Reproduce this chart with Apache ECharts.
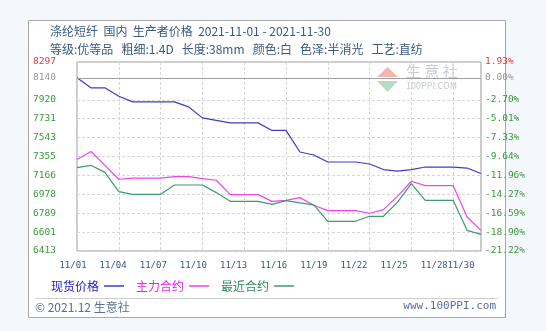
<!DOCTYPE html>
<html>
<head>
<meta charset="utf-8">
<script src="https://cdn.jsdelivr.net/npm/echarts@6/dist/echarts.min.js"></script>
<style>
  html, body { margin: 0; padding: 0; background: #f4f7fc; }
  #chart { width: 546px; height: 331px; }
</style>
</head>
<body>
<div id="chart"></div>
<script>
// Daily dates, November 2021
const dates = ['11/01','11/02','11/03','11/04','11/05','11/06','11/07','11/08','11/09','11/10',
  '11/11','11/12','11/13','11/14','11/15','11/16','11/17','11/18','11/19','11/20',
  '11/21','11/22','11/23','11/24','11/25','11/26','11/27','11/28','11/29','11/30'];

// 现货价格 (spot price)
const spotPrice = [8140, 8040, 8040, 7955, 7900, 7900, 7900, 7900, 7850, 7740,
  7715, 7690, 7690, 7690, 7615, 7615, 7400, 7370, 7300, 7300,
  7300, 7280, 7225, 7210, 7225, 7250, 7250, 7250, 7240, 7185];

// 主力合约 (main contract)
const mainContract = [7325, 7405, 7267, 7128, 7140, 7140, 7140, 7155, 7155, 7135,
  7118, 6975, 6975, 6975, 6908, 6918, 6945, 6869, 6816, 6816,
  6816, 6789, 6826, 6958, 7108, 7065, 7065, 7065, 6752, 6619];

// 最近合约 (nearest contract)
const nearContract = [7244, 7267, 7197, 7005, 6978, 6978, 6978, 7071, 7071, 7071,
  6995, 6908, 6908, 6908, 6878, 6915, 6892, 6872, 6709, 6709,
  6709, 6759, 6759, 6898, 7085, 6918, 6918, 6918, 6619, 6579];

// Value axis ticks and their left / right labels
const yMin = 6413;
const yMax = 8297;
const baseValue = 8140;
const yTickValues = [6413, 6601.4, 6789.8, 6978.2, 7166.6, 7355, 7543.4, 7731.8, 7920.2, 8140, 8297];
const yTickLabels = ['6413','6601','6789','6978','7166','7355','7543','7731','7920','8140','8297'];
const pctTickLabels = ['-21.22%','-18.90%','-16.59%','-14.27%','-11.96%','-9.64%','-7.33%','-5.01%','-2.70%','0.00%','1.93%'];

const seriesNames = ['现货价格', '主力合约', '最近合约'];
const seriesColors = ['#3c3cc8', '#ee44ee', '#3f9a6e'];
const legendTextColors = ['#1a1acc', '#ee22ee', '#2f8a5e'];

function tickColor(i) {
  if (i === yTickValues.length - 1) return '#e03a3a';
  if (i === yTickValues.length - 2) return '#999999';
  return '#3a9a3a';
}
function tickIndex(v) {
  let best = 0, d = Infinity;
  yTickValues.forEach((t, i) => { if (Math.abs(t - v) < d) { d = Math.abs(t - v); best = i; } });
  return best;
}

const chart = echarts.init(document.getElementById('chart'), null, { renderer: 'canvas' });

const plot = { left: 77, top: 62, width: 404, height: 189 };
// date labels sit on a slightly narrower band than the plot itself
const labelBand = { left: 73, top: 62, width: 388, height: 189, show: false };
const uiFont = '"Noto Sans CJK SC", "DejaVu Sans", sans-serif';
const numFont = '"DejaVu Sans Mono", "Liberation Mono", monospace';

function dateLabelAxis(gridIndex, showIndex) {
  return {
    type: 'category', gridIndex: gridIndex, data: dates, boundaryGap: false,
    axisLine: { show: false }, axisTick: { show: false }, splitLine: { show: false },
    axisLabel: {
      interval: showIndex,
      color: '#3a5a80', fontSize: 9, fontFamily: numFont, margin: 10
    }
  };
}

const option = {
  backgroundColor: '#f4f7fc',
  animation: false,
  textStyle: { fontFamily: uiFont },
  graphic: [
    { type: 'rect', z: -10, shape: { x: 28.5, y: 20.5, width: 477, height: 297 },
      style: { fill: '#ffffff', stroke: '#a8a8a8', lineWidth: 1 } },
    { type: 'text', left: 50, top: 25,
      style: { text: '涤纶短纤  国内  生产者价格  2021-11-01 - 2021-11-30', fill: '#3a5a80', font: '12px ' + uiFont } },
    { type: 'text', left: 50, top: 43,
      style: { text: '等级:优等品   粗细:1.4D   长度:38mm   颜色:白   色泽:半消光   工艺:直纺', fill: '#3a5a80', font: '12px ' + uiFont } },
    // watermark
    { type: 'polygon', shape: { points: [[377, 77], [387.5, 67], [398, 77]] }, style: { fill: '#f2b8b0' } },
    { type: 'polygon', shape: { points: [[377, 81], [387.5, 92], [398, 81]] }, style: { fill: '#b8dcc0' } },
    { type: 'text', left: 406, top: 64, style: { text: '生 意 社', fill: '#c6ccd6', font: '15px ' + uiFont } },
    { type: 'text', left: 406, top: 81, style: { text: '100PPI.COM', fill: '#c2c8d2', font: '9px ' + uiFont } },
    // footer
    { type: 'line', shape: { x1: 36, y1: 298.5, x2: 498, y2: 298.5 }, style: { stroke: '#cfcfcf', lineWidth: 1 } },
    { type: 'text', left: 35, top: 301,
      style: { text: '© 2021.12 生意社', fill: '#5a7090', font: '12px ' + uiFont } },
    { type: 'text', right: 50, top: 301,
      style: { text: 'www.100PPI.com', fill: '#5a7090', font: '11px ' + numFont } }
  ],
  legend: {
    left: 46, top: 275,
    align: 'right',
    itemWidth: 20, itemHeight: 1.5, itemGap: 12,
    icon: 'rect',
    data: seriesNames.map((n, i) => ({ name: n, textStyle: { color: legendTextColors[i] } })),
    textStyle: { fontSize: 12, fontFamily: uiFont }
  },
  grid: [
    Object.assign({ show: true, borderColor: '#9a9a9a', borderWidth: 1, backgroundColor: 'transparent' }, plot),
    Object.assign({}, labelBand),
    Object.assign({}, labelBand)
  ],
  xAxis: [
    {
      type: 'category', gridIndex: 0, data: dates, boundaryGap: false,
      axisLine: { show: false }, axisTick: { show: false }, axisLabel: { show: false },
      splitLine: { show: true, interval: 2, lineStyle: { color: '#d6d6d6', type: [3, 2], width: 1 } }
    },
    dateLabelAxis(1, (i) => i % 3 === 0),
    dateLabelAxis(2, (i) => i === dates.length - 1)
  ],
  yAxis: [
    {
      type: 'value', gridIndex: 0, min: yMin, max: yMax,
      axisLine: { show: false },
      axisTick: { show: false, customValues: yTickValues },
      splitLine: { show: true, lineStyle: { color: '#d6d6d6', type: [3, 2], width: 1 } },
      axisLabel: {
        customValues: yTickValues,
        formatter: (v) => yTickLabels[tickIndex(v)],
        color: (v) => tickColor(tickIndex(v)),
        fontSize: 9.5, fontFamily: numFont, margin: 21
      }
    },
    {
      type: 'value', gridIndex: 0, position: 'right', min: yMin, max: yMax,
      axisLine: { show: false }, axisTick: { show: false, customValues: yTickValues }, splitLine: { show: false },
      axisLabel: {
        customValues: yTickValues,
        formatter: (v) => pctTickLabels[tickIndex(v)],
        color: (v) => tickColor(tickIndex(v)),
        fontSize: 9.5, fontFamily: numFont, margin: 4
      }
    },
    { type: 'value', gridIndex: 1, show: false, min: yMin, max: yMax },
    { type: 'value', gridIndex: 2, show: false, min: yMin, max: yMax }
  ],
  series: [
    {
      name: seriesNames[0], type: 'line', xAxisIndex: 0, yAxisIndex: 0, data: spotPrice,
      symbol: 'none', lineStyle: { width: 1.2, color: seriesColors[0] }, itemStyle: { color: seriesColors[0] },
      markLine: {
        silent: true, symbol: 'none', label: { show: false },
        lineStyle: { color: '#a0a0a0', type: 'solid', width: 1 },
        data: [{ yAxis: baseValue }]
      }
    },
    {
      name: seriesNames[1], type: 'line', xAxisIndex: 0, yAxisIndex: 0, data: mainContract,
      symbol: 'none', lineStyle: { width: 1.2, color: seriesColors[1] }, itemStyle: { color: seriesColors[1] }
    },
    {
      name: seriesNames[2], type: 'line', xAxisIndex: 0, yAxisIndex: 0, data: nearContract,
      symbol: 'none', lineStyle: { width: 1.2, color: seriesColors[2] }, itemStyle: { color: seriesColors[2] }
    }
  ]
};

chart.setOption(option);
</script>
</body>
</html>
